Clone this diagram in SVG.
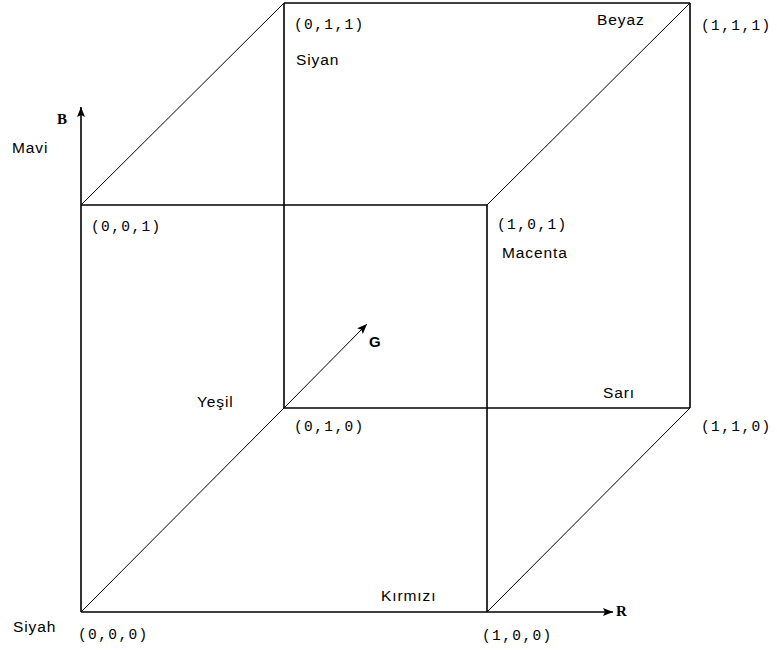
<svg xmlns="http://www.w3.org/2000/svg" width="777" height="650" viewBox="0 0 777 650">
<defs>
<marker id="ah" viewBox="0 0 10 8" refX="10" refY="4" markerWidth="11" markerHeight="8" markerUnits="userSpaceOnUse" orient="auto">
<path d="M0,0 L10,4 L0,8 L2,4 Z" fill="#000"/>
</marker>
<style>
.e{stroke:#000;stroke-width:1.6;fill:none}
.d{stroke:#000;stroke-width:1;fill:none}
.c{font-family:"Liberation Mono",monospace;font-size:14.5px;letter-spacing:1.4px;fill:#000}
.n{font-family:"Liberation Sans",Arial,sans-serif;font-size:15.5px;letter-spacing:0.9px;fill:#000}
.a{font-family:"Liberation Serif",serif;font-size:15px;font-weight:bold;fill:#000}
.g{font-family:"Liberation Sans",Arial,sans-serif;font-size:15px;font-weight:bold;fill:#000}
</style>
</defs>
<rect width="777" height="650" fill="#fff"/>
<g id="connectors">
<line class="e" x1="81" y1="612" x2="487" y2="612"/>
<line class="e" x1="81" y1="205" x2="487" y2="205"/>
<line class="e" x1="487" y1="205" x2="487" y2="612"/>
<line class="e" x1="284" y1="3" x2="690" y2="3"/>
<line class="e" x1="284" y1="408" x2="690" y2="408"/>
<line class="e" x1="284" y1="3" x2="284" y2="408"/>
<line class="e" x1="690" y1="3" x2="690" y2="408"/>
<line class="d" x1="81" y1="205" x2="284" y2="3"/>
<line class="d" x1="487" y1="205" x2="690" y2="3"/>
<line class="d" x1="81" y1="612" x2="284" y2="408"/>
<line class="d" x1="487" y1="612" x2="690" y2="408"/>
<line class="e" x1="81" y1="612" x2="81" y2="107" marker-end="url(#ah)"/>
<line class="e" x1="487" y1="612" x2="613" y2="612" marker-end="url(#ah)"/>
<line class="d" x1="284" y1="408" x2="367" y2="324" marker-end="url(#ah)"/>
</g>
<g id="axis-labels">
<text class="a" x="57" y="124">B</text>
<text class="g" x="369" y="347">G</text>
<text class="a" x="616" y="616">R</text>
</g>
<g id="v000"><text class="n" x="13" y="632">Siyah</text><text class="c" x="78" y="639">(0,0,0)</text></g>
<g id="v001"><text class="n" x="12" y="153">Mavi</text><text class="c" x="91" y="231">(0,0,1)</text></g>
<g id="v010"><text class="n" x="197" y="407">Yeşil</text><text class="c" x="294" y="431">(0,1,0)</text></g>
<g id="v011"><text class="c" x="294" y="29">(0,1,1)</text><text class="n" x="296" y="65">Siyan</text></g>
<g id="v100"><text class="n" x="381" y="601">Kırmızı</text><text class="c" x="482" y="640">(1,0,0)</text></g>
<g id="v101"><text class="c" x="497" y="229">(1,0,1)</text><text class="n" x="502" y="258">Macenta</text></g>
<g id="v110"><text class="n" x="603" y="398">Sarı</text><text class="c" x="701" y="431">(1,1,0)</text></g>
<g id="v111"><text class="n" x="597" y="25">Beyaz</text><text class="c" x="701" y="30">(1,1,1)</text></g>
</svg>
